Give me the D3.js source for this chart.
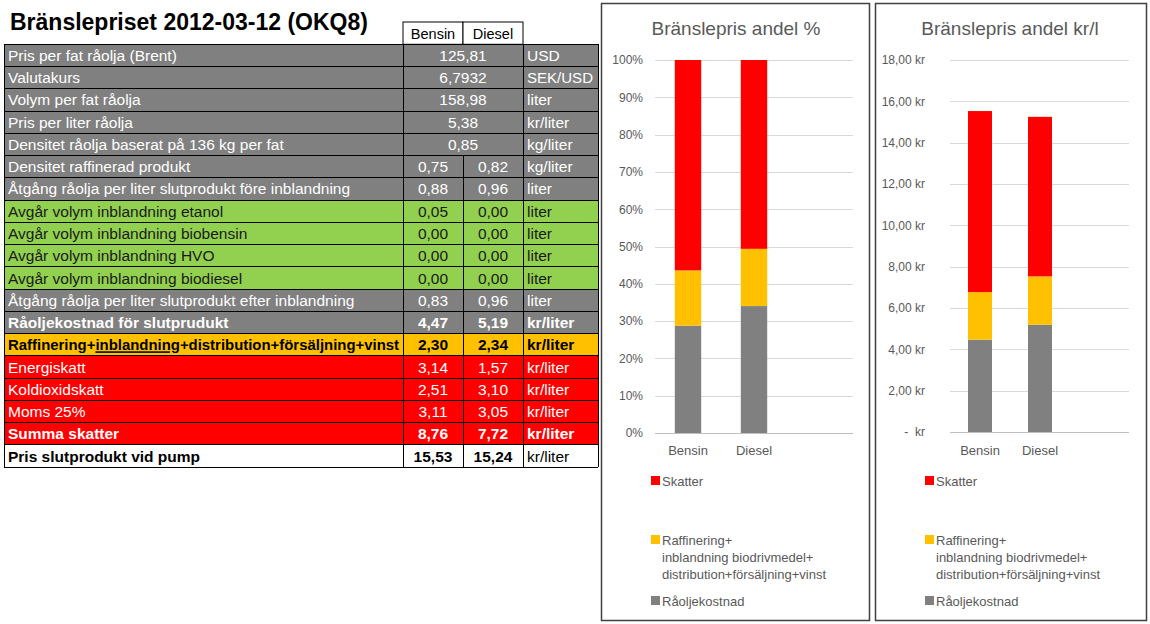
<!DOCTYPE html>
<html><head><meta charset="utf-8">
<script src="https://cdn.jsdelivr.net/npm/d3@7"></script>
<style>
body{margin:0;background:#fff;}
svg text{font-family:"Liberation Sans",Arial,sans-serif;}
</style>
</head><body><svg id="c" width="1150" height="624"></svg>
<script>
// ---------- DATA ----------
const tableTitle = "Bränslepriset 2012-03-12 (OKQ8)";
const fuels = ["Bensin", "Diesel"];
const rowLabels = [
  "Pris per fat råolja (Brent)",
  "Valutakurs",
  "Volym per fat råolja",
  "Pris per liter råolja",
  "Densitet råolja baserat på 136 kg per fat",
  "Densitet raffinerad produkt",
  "Åtgång råolja per liter slutprodukt före inblandning",
  "Avgår volym inblandning etanol",
  "Avgår volym inblandning biobensin",
  "Avgår volym inblandning HVO",
  "Avgår volym inblandning biodiesel",
  "Åtgång råolja per liter slutprodukt efter inblandning",
  "Råoljekostnad för slutprudukt",
  "Raffinering+inblandning+distribution+försäljning+vinst",
  "Energiskatt",
  "Koldioxidskatt",
  "Moms 25%",
  "Summa skatter",
  "Pris slutprodukt vid pump"
];
// first value column (shared value for the merged rows)
const bensinValues = [125.81, 6.7932, 158.98, 5.38, 0.85, 0.75, 0.88, 0.05, 0.00, 0.00, 0.00, 0.83, 4.47, 2.30, 3.14, 2.51, 3.11, 8.76, 15.53];
// null = merged with the first column
const dieselValues = [null, null, null, null, null, 0.82, 0.96, 0.00, 0.00, 0.00, 0.00, 0.96, 5.19, 2.34, 1.57, 3.10, 3.05, 7.72, 15.24];
const valueDecimals = [2, 4, 2, 2, 2, 2, 2, 2, 2, 2, 2, 2, 2, 2, 2, 2, 2, 2, 2];
const units = ["USD", "SEK/USD", "liter", "kr/liter", "kg/liter", "kg/liter", "liter", "liter", "liter", "liter", "liter", "liter", "kr/liter", "kr/liter", "kr/liter", "kr/liter", "kr/liter", "kr/liter", "kr/liter"];
const rowGroups = ["olja","olja","olja","olja","olja","olja","olja","bio","bio","bio","bio","olja","kostnad","marginal","skatt","skatt","skatt","summa","pris"];

const chartCategories = ["Bensin", "Diesel"];
const raoljekostnad = [4.47, 5.19];
const raffinering = [2.30, 2.34];
const skatter = [8.76, 7.72];
const seriesNames = ["Råoljekostnad", "Raffinering+\ninblandning biodrivmedel+\ndistribution+försäljning+vinst", "Skatter"];
const pctTicks = [0, 0.1, 0.2, 0.3, 0.4, 0.5, 0.6, 0.7, 0.8, 0.9, 1.0];
const krTicks = [0, 2, 4, 6, 8, 10, 12, 14, 16, 18];

// ---------- STYLES ----------
const groupStyle = {
  olja:     {fill: "#808080", color: "#ffffff", bold: false, unitBold: false},
  bio:      {fill: "#92D050", color: "#1a1a1a", bold: false, unitBold: false},
  kostnad:  {fill: "#808080", color: "#ffffff", bold: true,  unitBold: true},
  marginal: {fill: "#FFC000", color: "#000000", bold: true,  unitBold: true},
  skatt:    {fill: "#FF0000", color: "#ffffff", bold: false, unitBold: false},
  summa:    {fill: "#FF0000", color: "#ffffff", bold: true,  unitBold: true},
  pris:     {fill: "#ffffff", color: "#000000", bold: true,  unitBold: false}
};
const seriesColors = ["#808080", "#FFC000", "#FF0000"];

const locale = d3.formatLocale({decimal: ",", thousands: " ", grouping: [3], currency: ["", " kr"]});

const svg = d3.select("#c");
svg.append("rect").attr("width", 1150).attr("height", 624).attr("fill", "#fff");

// ---------- TABLE ----------
const colX = [4, 403, 463, 523, 598];
const rowTop = 44.3, rowH = 22.26;
const rowY = d3.scaleBand().domain(d3.range(rowLabels.length)).range([rowTop, rowTop + rowH * rowLabels.length]);
const tbl = svg.append("g");
const FS = 15.5;

const tt = tbl.append("text").attr("x", 10).attr("y", 30).attr("font-size", 23).attr("font-weight", "bold")
  .attr("fill", "#000").text(tableTitle);
if (tt.node().getComputedTextLength() > 360) tt.attr("textLength", 360).attr("lengthAdjust", "spacingAndGlyphs");

// header
const headG = tbl.append("g");
fuels.forEach((f, i) => {
  headG.append("rect").attr("x", colX[1 + i]).attr("y", 22).attr("width", colX[2 + i] - colX[1 + i]).attr("height", rowTop - 22)
    .attr("fill", "#fff").attr("stroke", "#000").attr("stroke-width", 1);
  headG.append("text").attr("x", (colX[1 + i] + colX[2 + i]) / 2).attr("y", 39).attr("text-anchor", "middle")
    .attr("font-size", 14.5).attr("fill", "#000").text(f);
});

rowLabels.forEach((lab, i) => {
  const st = groupStyle[rowGroups[i]];
  const y = rowY(i), h = rowY.bandwidth();
  const g = tbl.append("g");
  g.append("rect").attr("x", colX[0]).attr("y", y).attr("width", colX[4] - colX[0]).attr("height", h).attr("fill", st.fill);
  const ty = y + h / 2 + 5.5;
  // label
  const t = g.append("text").attr("x", 8).attr("y", ty).attr("font-size", FS).attr("fill", st.color)
    .attr("font-weight", st.bold ? "bold" : "normal");
  if (rowGroups[i] === "marginal") {
    const parts = lab.split("inblandning");
    t.append("tspan").text(parts[0]);
    t.append("tspan").attr("text-decoration", "underline").text("inblandning");
    t.append("tspan").text(parts[1]);
  } else {
    t.text(lab);
  }
  const maxW = colX[1] - 12;
  const w = t.node().getComputedTextLength();
  if (w > maxW) t.attr("textLength", maxW).attr("lengthAdjust", "spacingAndGlyphs");
  const fmt = locale.format("." + valueDecimals[i] + "f");
  if (dieselValues[i] === null) {
    g.append("text").attr("x", (colX[1] + colX[3]) / 2).attr("y", ty).attr("text-anchor", "middle").attr("font-size", FS)
      .attr("fill", st.color).attr("font-weight", st.bold ? "bold" : "normal").text(fmt(bensinValues[i]));
  } else {
    [bensinValues[i], dieselValues[i]].forEach((v, j) => {
      g.append("text").attr("x", (colX[1 + j] + colX[2 + j]) / 2).attr("y", ty).attr("text-anchor", "middle").attr("font-size", FS)
        .attr("fill", st.color).attr("font-weight", st.bold ? "bold" : "normal").text(fmt(v));
    });
  }
  const ut = g.append("text").attr("x", colX[3] + 4).attr("y", ty).attr("font-size", FS).attr("fill", st.color)
    .attr("font-weight", st.unitBold ? "bold" : "normal").text(units[i]);
  if (ut.node().getComputedTextLength() > 66) ut.attr("textLength", 66).attr("lengthAdjust", "spacingAndGlyphs");
  // borders
  const line = (x1, y1, x2, y2) => g.append("line").attr("x1", x1).attr("y1", y1).attr("x2", x2).attr("y2", y2)
    .attr("stroke", "#000").attr("stroke-width", 1).attr("shape-rendering", "crispEdges");
  line(colX[0], y, colX[4], y);
  line(colX[0], y + h, colX[4], y + h);
  const vx = dieselValues[i] === null ? [colX[0], colX[1], colX[3], colX[4]] : colX;
  vx.forEach(x => line(x, y, x, y + h));
});

// ---------- CHARTS ----------
function drawChart(cfg) {
  const g = svg.append("g");
  g.append("rect").attr("x", cfg.box[0]).attr("y", cfg.box[1]).attr("width", cfg.box[2] - cfg.box[0])
    .attr("height", cfg.box[3] - cfg.box[1]).attr("fill", "#fff").attr("stroke", "#404040").attr("stroke-width", 1.5);
  g.append("text").attr("x", cfg.titleX).attr("y", 35).attr("text-anchor", "middle").attr("font-size", 19)
    .attr("fill", "#595959").text(cfg.title);

  const y = d3.scaleLinear().domain([0, cfg.max]).range([cfg.y0, cfg.y1]);
  const x = d3.scaleBand().domain(chartCategories).range([cfg.plotL, cfg.plotL + 2 * cfg.step]).paddingInner(0.6).paddingOuter(0.3);

  // gridlines
  g.append("g").selectAll("line").data(cfg.ticks).join("line")
    .attr("x1", cfg.plotL).attr("x2", cfg.plotR).attr("y1", d => Math.round(y(d)) + 0.5).attr("y2", d => Math.round(y(d)) + 0.5)
    .attr("stroke", d => d === 0 ? "#bfbfbf" : "#d9d9d9").attr("stroke-width", 1);

  // y axis labels
  const ax = g.append("g").attr("transform", `translate(${cfg.labelX},0)`)
    .call(d3.axisLeft(y).tickValues(cfg.ticks).tickFormat(cfg.fmt).tickSize(0).tickPadding(0));
  ax.select(".domain").remove();
  ax.selectAll("text").attr("font-size", cfg.tickSize).attr("fill", "#595959")
    .attr("font-family", '"Liberation Sans",Arial,sans-serif').style("white-space", "pre");

  // stacked bars
  const rows = chartCategories.map((c, i) => ({cat: c, s0: raoljekostnad[i], s1: raffinering[i], s2: skatter[i]}));
  const stack = d3.stack().keys(["s0", "s1", "s2"]);
  if (cfg.expand) stack.offset(d3.stackOffsetExpand);
  const layers = stack(rows);
  g.append("g").selectAll("g").data(layers).join("g").attr("fill", (d, i) => seriesColors[i])
    .selectAll("rect").data(d => d).join("rect")
    .attr("x", d => x(d.data.cat)).attr("width", x.bandwidth())
    .attr("y", d => y(d[1])).attr("height", d => y(d[0]) - y(d[1]));

  // category labels
  g.append("g").selectAll("text").data(chartCategories).join("text")
    .attr("x", d => x(d) + x.bandwidth() / 2).attr("y", 455).attr("text-anchor", "middle")
    .attr("font-size", 13).attr("fill", "#595959").text(d => d);

  // legend
  const legend = [
    {i: 2, y: 481},
    {i: 1, y: 540},
    {i: 0, y: 601}
  ];
  legend.forEach(L => {
    g.append("rect").attr("x", cfg.legX).attr("y", L.y - 5).attr("width", 9).attr("height", 9).attr("fill", seriesColors[L.i]);
    const lines = seriesNames[L.i].split("\n");
    lines.forEach((ln, k) => {
      g.append("text").attr("x", cfg.legX + 11).attr("y", L.y + 5 + k * 17).attr("font-size", 13)
        .attr("fill", "#595959").text(ln);
    });
  });
}

drawChart({
  box: [601.5, 3.5, 869.5, 620.5], title: "Bränslepris andel %", titleX: 736,
  max: 1, y0: 433, y1: 60, plotL: 655, plotR: 853, step: 66, labelX: 643,
  ticks: pctTicks, fmt: locale.format(".0%"), tickSize: 12, expand: true, legX: 651
});
drawChart({
  box: [875.5, 3.5, 1146.5, 620.5], title: "Bränslepris andel kr/l", titleX: 1010,
  max: 18, y0: 432, y1: 60, plotL: 950, plotR: 1129, step: 60, labelX: 925,
  ticks: krTicks, fmt: d => d === 0 ? "-  kr" : locale.format(",.2f")(d) + " kr", tickSize: 12, expand: false, legX: 925
});
</script>
</body></html>
